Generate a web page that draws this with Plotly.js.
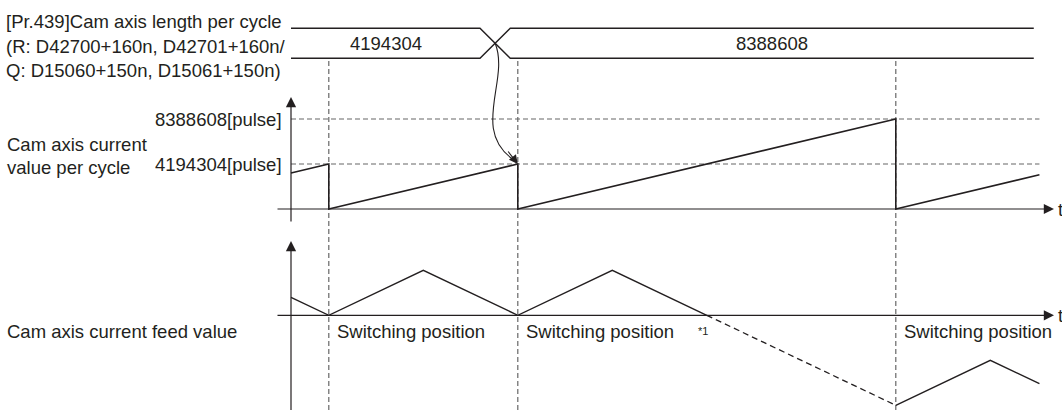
<!DOCTYPE html>
<html>
<head>
<meta charset="utf-8">
<script src="https://cdn.plot.ly/plotly-3.0.1.min.js"></script>
<style>
  html, body { margin: 0; padding: 0; background: #ffffff; }
  #chart { width: 1062px; height: 410px; }
</style>
</head>
<body>
<div id="chart"></div>
<script>
// ---------------- DATA ----------------
// time (arbitrary units) of the three switching positions
const switchTimes = [1, 6, 16];
// [Pr.439] cam axis length per cycle (bus values)
const busValues = ["4194304", "8388608"];
const busStartT = 0;
const busChangeT = 5.4;
const busEndT = 19.65;
// reference levels of the cam axis current value per cycle [pulse]
const levelValues = [4194304, 8388608];
const levelLabels = ["4194304[pulse]", "8388608[pulse]"];
// cam axis current value per cycle (sawtooth)
const camT = [0, 1, 1, 6, 6, 16, 16, 19.8];
const camV = [3355443, 4194304, 0, 4194304, 0, 8388608, 0, 3187671];
// cam axis current feed value (solid, dashed, solid)
const feed1T = [0, 1, 3.5, 6, 8.5, 11];
const feed1V = [40, 0, 100, 0, 100, 0];
const feed2T = [11, 16];
const feed2V = [0, -200];
const feed3T = [16, 18.5, 19.8];
const feed3V = [-200, -100, -152];
// labels
const busTitle = ["[Pr.439]Cam axis length per cycle",
                  "(R: D42700+160n, D42701+160n/",
                  "Q: D15060+150n, D15061+150n)"];
const camTitle = ["Cam axis current", "value per cycle"];
const feedTitle = "Cam axis current feed value";
const switchLabel = "Switching position";
const noteLabel = "*1";
const noteT = 10.9;
const timeLabel = "t";

// ---------------- LAYOUT GEOMETRY (pixels) ----------------
const W = 1062, H = 410;
const T0PX = 291, PX_PER_T = 37.8;
const CAM_BASE_PX = 209, CAM_PX_PER_UNIT = 45 / 4194304;
const FEED_BASE_PX = 315.3, FEED_PX_PER_UNIT = 0.45;
const BUS_BASE_PX = 58.3, BUS_PX_PER_UNIT = 30;

const xRange = [-T0PX / PX_PER_T, (W - T0PX) / PX_PER_T];
const camRange = [(CAM_BASE_PX - H) / CAM_PX_PER_UNIT, CAM_BASE_PX / CAM_PX_PER_UNIT];
const feedRange = [(FEED_BASE_PX - H) / FEED_PX_PER_UNIT, FEED_BASE_PX / FEED_PX_PER_UNIT];
const busRange = [(BUS_BASE_PX - H) / BUS_PX_PER_UNIT, BUS_BASE_PX / BUS_PX_PER_UNIT];

const px2t = px => (px - T0PX) / PX_PER_T;
const py2cam = py => (CAM_BASE_PX - py) / CAM_PX_PER_UNIT;
const py2feed = py => (FEED_BASE_PX - py) / FEED_PX_PER_UNIT;
const bus2cam = b => py2cam(BUS_BASE_PX - b * BUS_PX_PER_UNIT);
const px2paper = px => px / W;
const py2paper = py => 1 - py / H;

const INK = '#231f20';
const GRAY = '#666666';
const FONT = 'Liberation Sans, Arial, Helvetica, sans-serif';
const FS = 18.5;

// ---------------- TRACES ----------------
const halfW = 0.4;
const busA_T = [busStartT, busChangeT - halfW, busChangeT + halfW, busEndT];
const busA_V = [1, 1, 0, 0];
const busB_T = [busStartT, busChangeT - halfW, busChangeT + halfW, busEndT];
const busB_V = [0, 0, 1, 1];

const lineStyle = {color: INK, width: 1.4};
const traces = [
  {x: busA_T, y: busA_V, yaxis: 'y3', mode: 'lines', line: lineStyle, hoverinfo: 'skip'},
  {x: busB_T, y: busB_V, yaxis: 'y3', mode: 'lines', line: lineStyle, hoverinfo: 'skip'},
  {x: camT, y: camV, yaxis: 'y2', mode: 'lines', line: {color: INK, width: 1.6}, hoverinfo: 'skip'},
  {x: feed1T, y: feed1V, yaxis: 'y', mode: 'lines', line: {color: INK, width: 1.4}, hoverinfo: 'skip'},
  {x: feed2T, y: feed2V, yaxis: 'y', mode: 'lines', line: {color: INK, width: 1.3, dash: '6px,4px'}, hoverinfo: 'skip'},
  {x: feed3T, y: feed3V, yaxis: 'y', mode: 'lines', line: {color: INK, width: 1.4}, hoverinfo: 'skip'}
];

// ---------------- SHAPES ----------------
const shapes = [];
levelValues.forEach(v => shapes.push({
  type: 'line', xref: 'x', yref: 'y2', x0: camT[0], x1: camT[camT.length - 1], y0: v, y1: v,
  line: {color: GRAY, width: 1.2, dash: '5px,3px'}, layer: 'below'
}));
switchTimes.forEach(t => shapes.push({
  type: 'line', xref: 'x', yref: 'paper', x0: t, x1: t, y0: 0, y1: py2paper(61),
  line: {color: GRAY, width: 1.2, dash: '5px,3px'}, layer: 'below'
}));
// curved arrow from bus change to the 4194304 level at the 2nd switching position
const cs = [busChangeT, bus2cam(0.5)];
const ce = [switchTimes[1], levelValues[0]];
const c1 = [cs[0] + px2t(T0PX + 15), py2cam(80)];
const c2 = [cs[0] + px2t(T0PX - 25), py2cam(130)];
const ceLine = [ce[0] - px2t(T0PX + 4), ce[1] + (py2cam(160) - py2cam(164))];
shapes.push({
  type: 'path', xref: 'x', yref: 'y2',
  path: `M ${cs[0]},${cs[1]} C ${c1[0]},${c1[1]} ${c2[0]},${c2[1]} ${ceLine[0]},${ceLine[1]}`,
  line: {color: INK, width: 1.1}
});

// ---------------- ANNOTATIONS ----------------
const ann = [];
const txt = (text, x, y, xanchor, extra) => Object.assign({
  text, x, y, xref: 'paper', yref: 'paper', xanchor, yanchor: 'middle', showarrow: false,
  font: {family: FONT, size: FS, color: INK}
}, extra || {});

// axis arrows
const axArrow = (x, y, ax, ay, yref) => ({
  x, y, ax, ay, xref: 'x', yref, axref: 'x', ayref: yref, text: '', showarrow: true,
  arrowhead: 2, arrowsize: 1.7, arrowwidth: 1.2, arrowcolor: INK, standoff: 0, startstandoff: 0
});
ann.push(axArrow(0, py2cam(97), 0, py2cam(223), 'y2'));
ann.push(axArrow(px2t(1054), 0, px2t(276), 0, 'y2'));
ann.push(axArrow(0, py2feed(241), 0, py2feed(412), 'y'));
ann.push(axArrow(px2t(1054), 0, px2t(276), 0, 'y'));
// arrowhead of curved arrow
ann.push({x: ce[0], y: ce[1], ax: ceLine[0] - 0.18, ay: ceLine[1] + (py2cam(150) - py2cam(160)),
  xref: 'x', yref: 'y2', axref: 'x', ayref: 'y2', text: '', showarrow: true,
  arrowhead: 2, arrowsize: 1.6, arrowwidth: 1.1, arrowcolor: INK, standoff: 0});

// 't' labels
ann.push({text: timeLabel, x: px2t(1056), y: 0, xref: 'x', yref: 'y2', xanchor: 'left', yanchor: 'middle',
  showarrow: false, font: {family: FONT, size: FS, color: INK}});
ann.push({text: timeLabel, x: px2t(1056), y: 0, xref: 'x', yref: 'y', xanchor: 'left', yanchor: 'middle',
  showarrow: false, font: {family: FONT, size: FS, color: INK}});

// bus labels
ann.push({text: busValues[0], x: (busStartT + busChangeT - halfW) / 2, y: 0.5, xref: 'x', yref: 'y3',
  showarrow: false, xanchor: 'center', yanchor: 'middle', font: {family: FONT, size: FS, color: INK}});
ann.push({text: busValues[1], x: (busChangeT + halfW + busEndT) / 2, y: 0.5, xref: 'x', yref: 'y3',
  showarrow: false, xanchor: 'center', yanchor: 'middle', font: {family: FONT, size: FS, color: INK}});

// left titles
ann.push(txt(busTitle[0], px2paper(4), py2paper(21.5), 'left'));
ann.push(txt(busTitle[1], px2paper(4), py2paper(46.5), 'left'));
ann.push(txt(busTitle[2], px2paper(4), py2paper(71), 'left'));
ann.push(txt(camTitle[0], px2paper(5), py2paper(144.5), 'left'));
ann.push(txt(camTitle[1], px2paper(5), py2paper(167.5), 'left'));
ann.push(txt(feedTitle, px2paper(5), py2paper(331), 'left'));

// level labels
levelValues.forEach((v, i) => ann.push({text: levelLabels[i], x: px2t(284), y: v, xref: 'x', yref: 'y2',
  xanchor: 'right', yanchor: 'middle', showarrow: false, font: {family: FONT, size: FS, color: INK}}));

// switching position labels
switchTimes.forEach(t => ann.push({text: switchLabel, x: t, y: py2feed(331), xref: 'x', yref: 'y',
  xanchor: 'left', yanchor: 'middle', xshift: 6, showarrow: false, font: {family: FONT, size: FS, color: INK}}));
// note *1
ann.push({text: noteLabel, x: noteT, y: py2feed(331), xref: 'x', yref: 'y', xanchor: 'center', yanchor: 'middle',
  showarrow: false, font: {family: FONT, size: 11, color: INK}});

const axisBase = {visible: false, fixedrange: true, showgrid: false, zeroline: false};
const layout = {
  width: W, height: H,
  margin: {l: 0, r: 0, t: 0, b: 0},
  paper_bgcolor: '#ffffff', plot_bgcolor: '#ffffff',
  showlegend: false,
  xaxis: Object.assign({}, axisBase, {range: xRange}),
  yaxis: Object.assign({}, axisBase, {range: feedRange, domain: [0, 1]}),
  yaxis2: Object.assign({}, axisBase, {range: camRange, domain: [0, 1], overlaying: 'y'}),
  yaxis3: Object.assign({}, axisBase, {range: busRange, domain: [0, 1], overlaying: 'y'}),
  shapes: shapes,
  annotations: ann,
  font: {family: FONT, color: INK}
};

Plotly.newPlot('chart', traces, layout, {staticPlot: true, displayModeBar: false});
</script>
</body>
</html>
